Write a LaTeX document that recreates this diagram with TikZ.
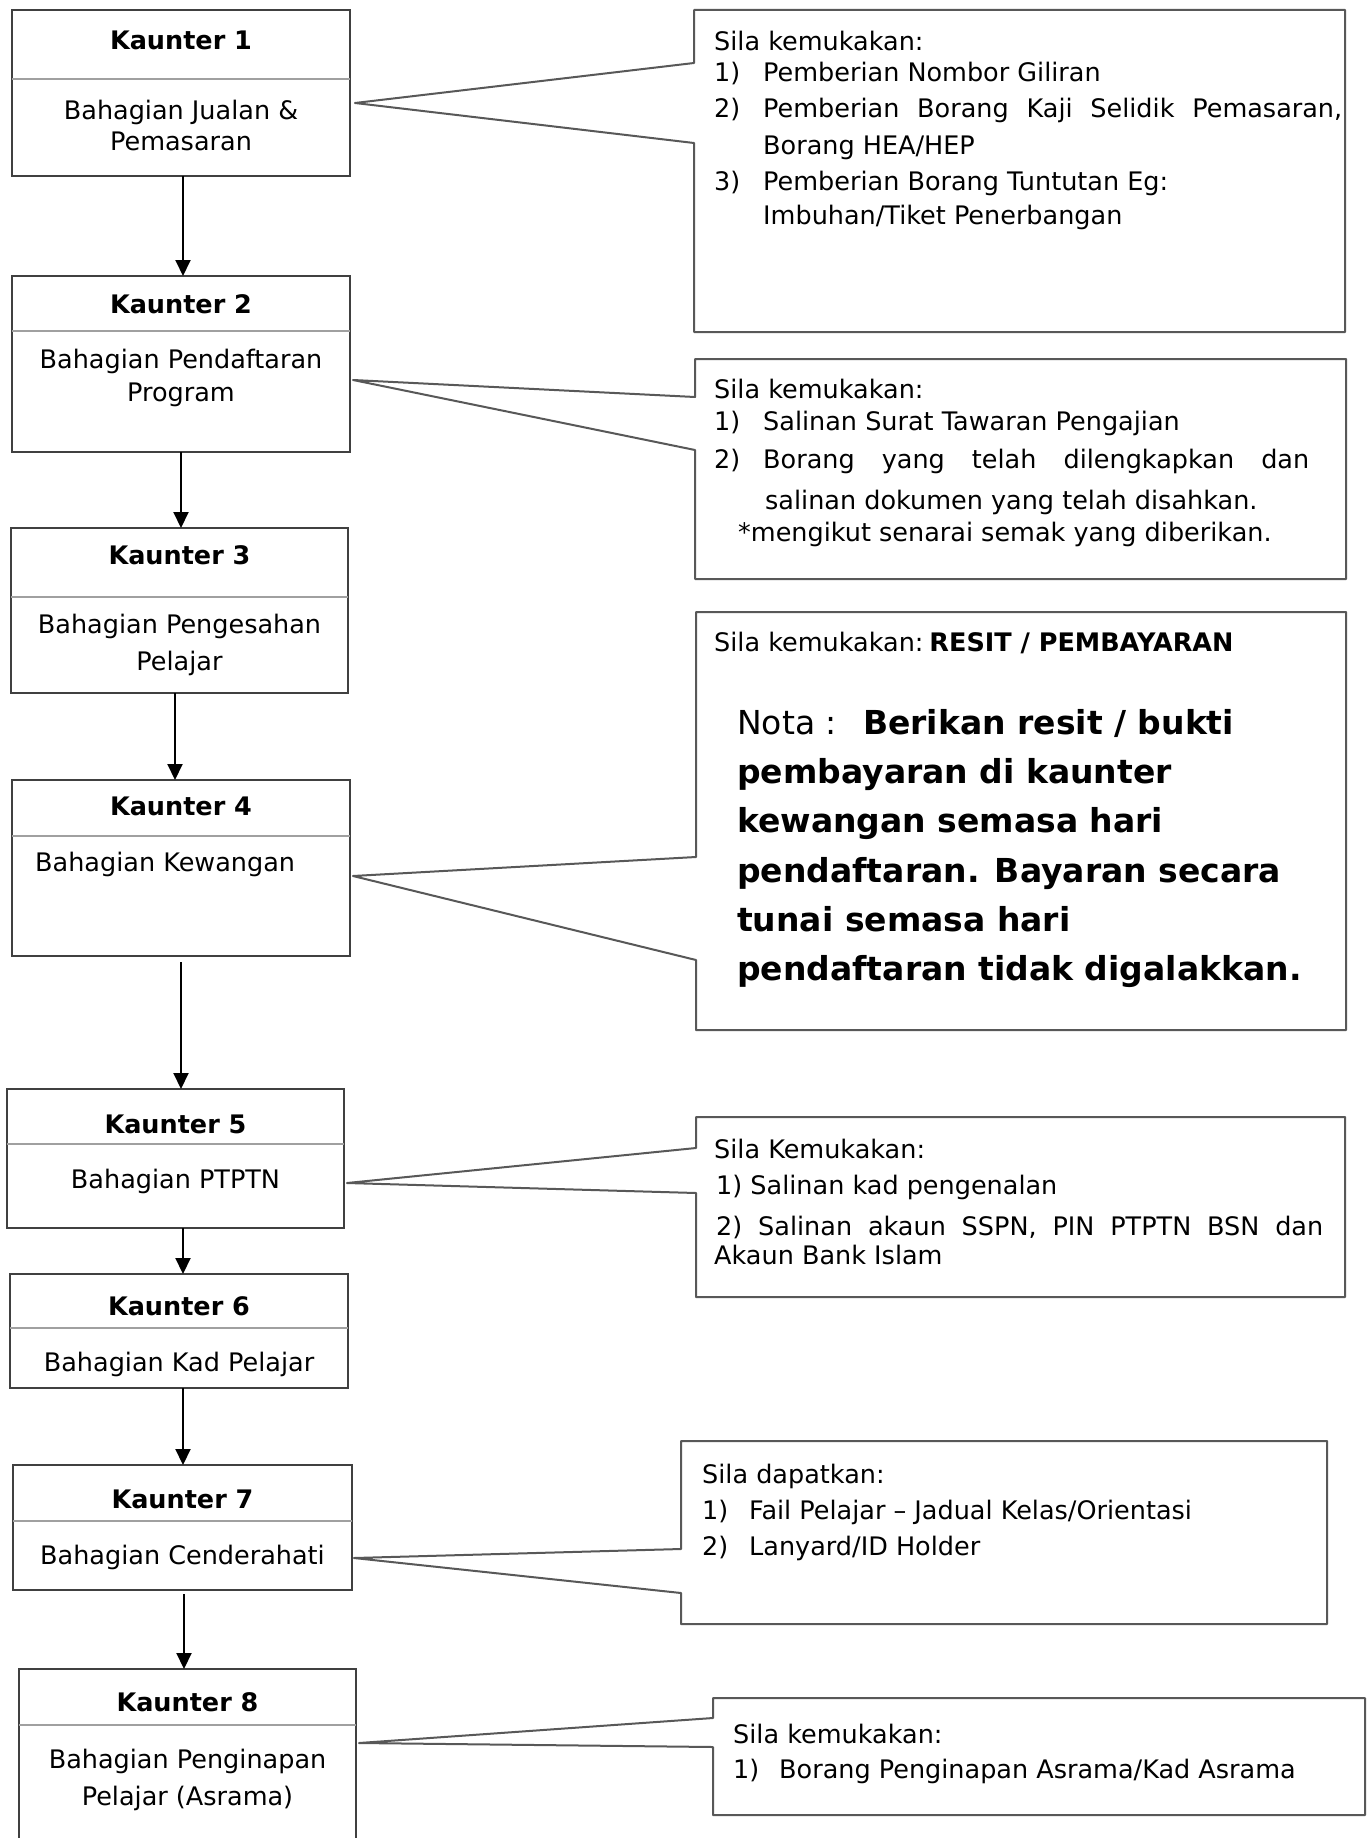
\documentclass[tikz,border=0pt]{standalone}
\usepackage{fontspec}
\setmainfont{DejaVu Sans}
\usetikzlibrary{arrows.meta}
\definecolor{boxc}{HTML}{404040}
\definecolor{cllc}{HTML}{585858}
\definecolor{sepc}{HTML}{A0A0A0}
\newcommand\bodyf{\fontsize{25.5pt}{36pt}\selectfont}
\newcommand\bigf{\fontsize{33pt}{49pt}\selectfont}
\newcommand\itm[2][49pt]{\makebox[#1][l]{#2}}
\begin{document}
\begin{tikzpicture}[x=1pt,y=-1pt,
 kb/.style={draw=boxc,line width=1.4pt,anchor=north west,inner sep=0pt,outer sep=0pt},
 hb/.style={draw=boxc,line width=2.6pt},
 cb/.style={anchor=north west,inner sep=0pt,outer sep=0pt},
 sepl/.style={draw=sepc,line width=1.8pt},
 cl/.style={draw=cllc,line width=2pt,line join=round},
 arr/.style={-{Triangle[width=15pt,length=16pt]},line width=2pt,black},
 kt/.style={anchor=base,inner sep=0pt,font=\bodyf\bfseries},
 kx/.style={anchor=base,inner sep=0pt,font=\bodyf},
 ln/.style={anchor=base west,inner sep=0pt,font=\bodyf},
 bl/.style={anchor=base west,inner sep=0pt,font=\bigf\bfseries}]
\fill[white] (0,0) rectangle (1372,1838);
\useasboundingbox (0,0) rectangle (1372,1838);
\clip (0,0) rectangle (1372,1838);

% ---------- counters ----------
\node[kb,minimum width=338pt,minimum height=166pt] (k1) at (12,10) {};
\draw[sepl] (k1.west |- 0,79) -- (k1.east |- 0,79);
\draw[hb] (k1.north west) -- (k1.north east) (k1.south west) -- (k1.south east);
\node[kt] (k1t) at (k1.north |- 0,50) {Kaunter 1};
\node[kx] (k1a) at (k1.north |- 0,120) {Bahagian Jualan \&};
\node[kx] (k1b) at (k1.north |- 0,151) {Pemasaran};

\node[kb,minimum width=338pt,minimum height=176pt] (k2) at (12,276) {};
\draw[sepl] (k2.west |- 0,331) -- (k2.east |- 0,331);
\draw[hb] (k2.north west) -- (k2.north east) (k2.south west) -- (k2.south east);
\node[kt] (k2t) at (k2.north |- 0,313) {Kaunter 2};
\node[kx] (k2a) at (k2.north |- 0,368) {Bahagian Pendaftaran};
\node[kx] (k2b) at (k2.north |- 0,401) {Program};

\node[kb,minimum width=337pt,minimum height=165pt] (k3) at (11,528) {};
\draw[sepl] (k3.west |- 0,597) -- (k3.east |- 0,597);
\draw[hb] (k3.north west) -- (k3.north east) (k3.south west) -- (k3.south east);
\node[kt] (k3t) at (k3.north |- 0,564) {Kaunter 3};
\node[kx] (k3a) at (k3.north |- 0,633) {Bahagian Pengesahan};
\node[kx] (k3b) at (k3.north |- 0,670) {Pelajar};

\node[kb,minimum width=338pt,minimum height=176pt] (k4) at (12,780) {};
\draw[sepl] (k4.west |- 0,836) -- (k4.east |- 0,836);
\draw[hb] (k4.north west) -- (k4.north east) (k4.south west) -- (k4.south east);
\node[kt] (k4t) at (k4.north |- 0,815) {Kaunter 4};
\node[ln] (k4a) at (35,871) {Bahagian Kewangan};

\node[kb,minimum width=337pt,minimum height=139pt] (k5) at (7,1089) {};
\draw[sepl] (k5.west |- 0,1144) -- (k5.east |- 0,1144);
\draw[hb] (k5.north west) -- (k5.north east) (k5.south west) -- (k5.south east);
\node[kt] (k5t) at (k5.north |- 0,1133) {Kaunter 5};
\node[kx] (k5a) at (k5.north |- 0,1188) {Bahagian PTPTN};

\node[kb,minimum width=338pt,minimum height=114pt] (k6) at (10,1274) {};
\draw[sepl] (k6.west |- 0,1328) -- (k6.east |- 0,1328);
\draw[hb] (k6.north west) -- (k6.north east) (k6.south west) -- (k6.south east);
\node[kt] (k6t) at (k6.north |- 0,1315) {Kaunter 6};
\node[kx] (k6a) at (k6.north |- 0,1371) {Bahagian Kad Pelajar};

\node[kb,minimum width=339pt,minimum height=125pt] (k7) at (13,1465) {};
\draw[sepl] (k7.west |- 0,1521) -- (k7.east |- 0,1521);
\draw[hb] (k7.north west) -- (k7.north east) (k7.south west) -- (k7.south east);
\node[kt] (k7t) at (k7.north |- 0,1508) {Kaunter 7};
\node[kx] (k7a) at (k7.north |- 0,1564) {Bahagian Cenderahati};

\node[kb,minimum width=337pt,minimum height=200pt] (k8) at (19,1669) {};
\draw[sepl] (k8.west |- 0,1725) -- (k8.east |- 0,1725);
\draw[hb] (k8.north west) -- (k8.north east);
\node[kt] (k8t) at (k8.north |- 0,1711) {Kaunter 8};
\node[kx] (k8a) at (k8.north |- 0,1768) {Bahagian Penginapan};
\node[kx] (k8b) at (k8.north |- 0,1805) {Pelajar (Asrama)};

% ---------- arrows ----------
\draw[arr] ([xshift=2pt]k1.south) -- ([xshift=2pt]k1.south |- k2.north);
\draw[arr] (k2.south) -- (k2.south |- k3.north);
\draw[arr] ([xshift=-4.5pt]k3.south) -- ([xshift=-4.5pt]k3.south |- k4.north);
\draw[arr] ([yshift=-6pt]k4.south) -- (k4.south |- k5.north);
\draw[arr] ([xshift=7.5pt]k5.south) -- ([xshift=7.5pt]k5.south |- k6.north);
\draw[arr] ([xshift=4pt]k6.south) -- ([xshift=4pt]k6.south |- k7.north);
\draw[arr] ([xshift=1.5pt,yshift=-4pt]k7.south) -- ([xshift=1.5pt]k7.south |- k8.north);

% ---------- callouts ----------
\node[cb,minimum width=651pt,minimum height=322pt] (c1) at (694,10) {};
\coordinate (a1) at (355,103);
\draw[cl] (c1.west |- 0,63) -- (c1.north west) -- (c1.north east) -- (c1.south east) -- (c1.south west) -- (c1.west |- 0,143) -- (a1) -- cycle;
\node[ln] (c1l1) at (714,51) {Sila kemukakan:};
\node[ln] (c1l2) at (714,82) {\itm{1)}Pemberian Nombor Giliran};
\node[ln] (c1l3) at (714,118) {\itm{2)}\makebox[579pt][s]{Pemberian Borang Kaji Selidik Pemasaran,}};
\node[ln] (c1l4) at (763,155) {Borang HEA/HEP};
\node[ln] (c1l5) at (714,191) {\itm{3)}Pemberian Borang Tuntutan Eg:};
\node[ln] (c1l6) at (763,225) {Imbuhan/Tiket Penerbangan};

\node[cb,minimum width=651pt,minimum height=220pt] (c2) at (695,359) {};
\coordinate (a2) at (353,380);
\draw[cl] (c2.west |- 0,397) -- (c2.north west) -- (c2.north east) -- (c2.south east) -- (c2.south west) -- (c2.west |- 0,450) -- (a2) -- cycle;
\node[ln] (c2l1) at (714,398) {Sila kemukakan:};
\node[ln] (c2l2) at (714,430) {\itm{1)}Salinan Surat Tawaran Pengajian};
\node[ln] (c2l3) at (714,468) {\itm{2)}\makebox[546pt][s]{Borang yang telah dilengkapkan dan}};
\node[ln] (c2l4) at (765,509) {salinan dokumen yang telah disahkan.};
\node[ln] (c2l5) at (738,541) {*mengikut senarai semak yang diberikan.};

\node[cb,minimum width=650pt,minimum height=418pt] (c3) at (696,612) {};
\coordinate (a3) at (353,876);
\draw[cl] (c3.west |- 0,857) -- (c3.north west) -- (c3.north east) -- (c3.south east) -- (c3.south west) -- (c3.west |- 0,960) -- (a3) -- cycle;
\node[ln] (c3l1) at (714,651) {Sila kemukakan:\hspace{6pt}\textbf{RESIT / PEMBAYARAN}};
\node[bl] (c3l2) at (737,734) {\makebox[126pt][l]{\mdseries Nota :}Berikan resit / bukti};
\node[bl] (c3l3) at (737,783) {pembayaran di kaunter};
\node[bl] (c3l4) at (737,832) {kewangan semasa hari};
\node[bl] (c3l5) at (737,882) {pendaftaran. Bayaran secara};
\node[bl] (c3l6) at (737,931) {tunai semasa hari};
\node[bl] (c3l7) at (737,980) {pendaftaran tidak digalakkan.};

\node[cb,minimum width=649pt,minimum height=180pt] (c4) at (696,1117) {};
\coordinate (a4) at (347,1183);
\draw[cl] (c4.west |- 0,1148) -- (c4.north west) -- (c4.north east) -- (c4.south east) -- (c4.south west) -- (c4.west |- 0,1193) -- (a4) -- cycle;
\node[ln] (c4l1) at (714,1158) {Sila Kemukakan:};
\node[ln] (c4l2) at (716,1194) {1) Salinan kad pengenalan};
\node[ln] (c4l3) at (716,1235) {\makebox[607pt][s]{2) Salinan akaun SSPN, PIN PTPTN BSN dan}};
\node[ln] (c4l4) at (714,1264) {Akaun Bank Islam};

\node[cb,minimum width=646pt,minimum height=183pt] (c5) at (681,1441) {};
\coordinate (a5) at (354,1558);
\draw[cl] (c5.west |- 0,1549) -- (c5.north west) -- (c5.north east) -- (c5.south east) -- (c5.south west) -- (c5.west |- 0,1593) -- (a5) -- cycle;
\node[ln] (c5l1) at (702,1483) {Sila dapatkan:};
\node[ln] (c5l2) at (702,1519) {\itm[47pt]{1)}Fail Pelajar \textendash{} Jadual Kelas/Orientasi};
\node[ln] (c5l3) at (702,1555) {\itm[47pt]{2)}Lanyard/ID Holder};

\node[cb,minimum width=652pt,minimum height=117pt] (c6) at (713,1698) {};
\coordinate (a6) at (359,1743);
\draw[cl] (c6.west |- 0,1718) -- (c6.north west) -- (c6.north east) -- (c6.south east) -- (c6.south west) -- (c6.west |- 0,1747) -- (a6) -- cycle;
\node[ln] (c6l1) at (733,1743) {Sila kemukakan:};
\node[ln] (c6l2) at (733,1778) {\itm[46pt]{1)}Borang Penginapan Asrama/Kad Asrama};
\end{tikzpicture}
\end{document}
